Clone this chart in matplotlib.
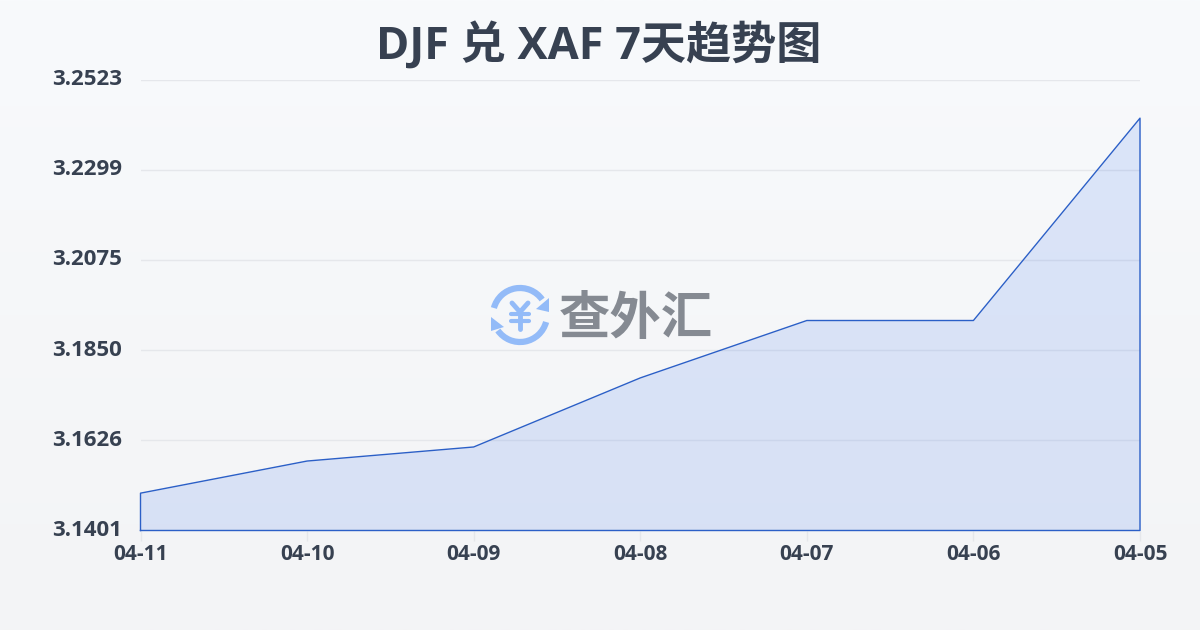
import numpy as np
import matplotlib
matplotlib.use('Agg')
import matplotlib.pyplot as plt
from matplotlib.patches import Arc, Polygon

plt.rcParams['font.family'] = ['Open Sans', 'Noto Sans CJK SC', 'DejaVu Sans']

# data, newest date on the right side is the oldest in the labels
dates = ['04-11', '04-10', '04-09', '04-08', '04-07', '04-06', '04-05']
rates = [3.1494, 3.1574, 3.1609, 3.1781, 3.1924, 3.1924, 3.2428]
y_ticks = [3.1401, 3.1626, 3.1850, 3.2075, 3.2299, 3.2523]
y_labels = ['3.1401', '3.1626', '3.1850', '3.2075', '3.2299', '3.2523']
title = 'DJF 兑 XAF 7天趋势图'
watermark = '查外汇'

W, H = 1200, 630
fig = plt.figure(figsize=(W / 100, H / 100), dpi=100)

# background gradient
bg = fig.add_axes([0, 0, 1, 1], zorder=0)
top = np.array([248, 250, 252]) / 255
bottom = np.array([243, 244, 246]) / 255
grad = np.linspace(0, 1, 256)[:, None, None] * (bottom - top) + top
bg.imshow(grad, aspect='auto', extent=[0, W, H, 0])
bg.axis('off')

# main chart
x = np.arange(len(dates))
ax = fig.add_axes([140.5 / W, 1 - 530.5 / H, 999.5 / W, 450.5 / H], zorder=1)
ax.patch.set_alpha(0)
ax.fill_between(x, rates, y_ticks[0], color='#2563eb', alpha=0.135, lw=0, zorder=2)
ax.plot(np.r_[x[0], x, x[-1], x[0]], np.r_[y_ticks[0], rates, y_ticks[0], y_ticks[0]],
        color='#2b5fc7', lw=1, zorder=3, clip_on=False)
ax.set_xlim(x[0], x[-1])
ax.set_ylim(y_ticks[0], y_ticks[-1])
ax.grid(axis='y', color='#e5e7eb', lw=1)
ax.set_axisbelow(True)
for s in ax.spines.values():
    s.set_visible(False)
ax.set_xticks(x)
ax.set_xticklabels(dates, fontsize=15, fontweight='bold', color='#374151')
ax.set_yticks(y_ticks)
ax.set_yticklabels(y_labels, fontsize=16, fontweight='bold', color='#374151', va='center')
ax.tick_params(axis='x', length=7, width=1, color='#e5e7eb', pad=2.5)
ax.tick_params(axis='y', length=0, pad=13.5)

# overlay in pixel coords for title and logo
ov = fig.add_axes([0, 0, 1, 1], zorder=3)
ov.set_xlim(0, W)
ov.set_ylim(H, 0)
ov.axis('off')
ov.patch.set_alpha(0)
ov.text(599, 47, title, fontsize=32.5, fontweight='bold', color='#374151', ha='center', va='center')
ov.text(636, 321, watermark, fontsize=37, fontweight='bold', color='#858a92', ha='center', va='center')

# logo
blue = '#93bbf8'
cx, cy = 520, 315
ov.add_patch(Arc((cx, cy), 54, 54, theta1=195, theta2=325, color=blue, lw=4.5))
ov.add_patch(Arc((cx, cy), 54, 54, theta1=15, theta2=145, color=blue, lw=4.5))
ov.add_patch(Polygon([[549, 298], [549, 312], [536, 309]], color=blue, lw=0))
ov.add_patch(Polygon([[491, 317], [491, 331], [504, 327]], color=blue, lw=0))
ov.plot([512, 520, 528], [303, 312, 303], color=blue, lw=3.5, solid_capstyle='round')
ov.plot([520, 520], [312, 329], color=blue, lw=3.5, solid_capstyle='round')
ov.plot([511, 529], [314, 314], color=blue, lw=3, solid_capstyle='round')
ov.plot([511, 529], [321, 321], color=blue, lw=3, solid_capstyle='round')

fig.savefig('out.png', dpi=100)
